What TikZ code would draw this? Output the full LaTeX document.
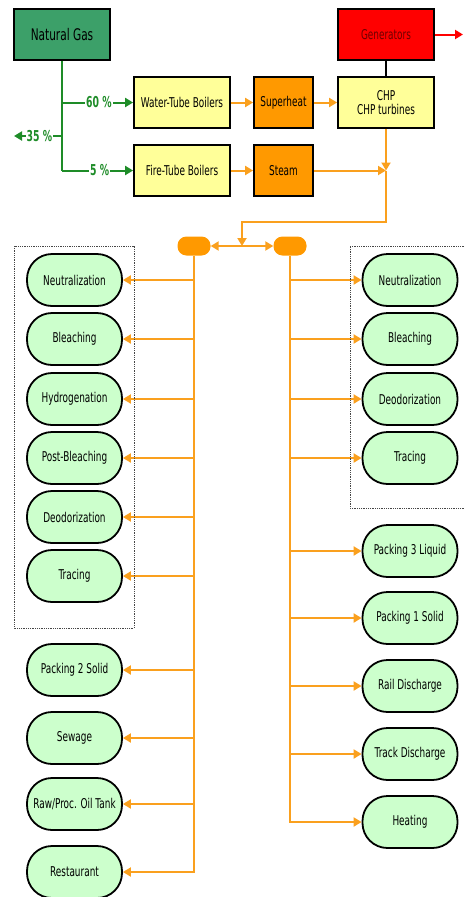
\documentclass[tikz,border=0pt]{standalone}
\usepackage{fontspec}
\setmainfont{DejaVu Sans}[FakeStretch=0.66]
\newfontfamily\pctfont{DejaVu Sans}[FakeStretch=0.62]
\usepackage{tikz}
\usetikzlibrary{arrows.meta,positioning}
\definecolor{gasgreen}{RGB}{30,140,40}
\definecolor{gasfill}{RGB}{60,160,105}
\definecolor{genred}{RGB}{255,0,0}
\definecolor{gentext}{RGB}{110,0,0}
\definecolor{paleyellow}{RGB}{255,255,153}
\definecolor{heatorange}{RGB}{255,153,0}
\definecolor{steamorange}{RGB}{250,160,30}
\definecolor{palegreen}{RGB}{204,255,204}
\definecolor{groupgrey}{RGB}{70,70,70}
\tikzset{
  base/.style={font=\fontsize{13.5}{14.5}\selectfont, align=center, inner sep=1pt, text=black},
  box/.style={base, rectangle, draw=black, line width=1.8pt, minimum height=51pt},
  boiler/.style={box, fill=paleyellow, minimum width=96pt},
  heat/.style={box, fill=heatorange, minimum width=59pt},
  proc/.style={base, rectangle, rounded corners=25pt, draw=black, line width=1.8pt, fill=palegreen, minimum width=95pt, minimum height=52pt},
  hub/.style={rectangle, rounded corners=9pt, fill=heatorange, minimum width=33pt, minimum height=19pt, inner sep=0pt},
  oline/.style={line width=2pt, draw=steamorange},
  oarr/.style={oline, -{Triangle[length=8pt,width=9pt]}},
  oarr2/.style={oline, {Triangle[length=8pt,width=9pt]}-{Triangle[length=8pt,width=9pt]}},
  gline/.style={line width=2pt, draw=gasgreen},
  garr/.style={gline, -{Triangle[length=8pt,width=9pt]}},
  rarr/.style={line width=2pt, draw=genred, -{Triangle[length=8pt,width=9pt]}},
  pct/.style={base, font=\pctfont\bfseries\fontsize{15}{16}\selectfont, text=gasgreen, fill=white, inner sep=1pt},
  grp/.style={draw=groupgrey, densely dotted, line width=0.8pt},
}
\begin{document}
\begin{tikzpicture}[x=1pt,y=-1pt]
  \useasboundingbox (0,0) rectangle (465,897);
  % supply side
  \node[box,fill=gasfill,minimum width=96pt,font=\fontsize{16}{17}\selectfont] (gas) at (62,34.5) {Natural Gas};
  \node[box,fill=genred,minimum width=96pt,text=gentext] (gen) at (386,34.5) {Generators};
  \node[boiler] (wtb) at (182,102.5) {Water-Tube Boilers};
  \node[heat]   (sup) at (283.5,102.5) {Superheat};
  \node[boiler] (chp) at (386,102.5) {CHP\\CHP turbines};
  \node[boiler] (ftb) at (182,170.5) {Fire-Tube Boilers};
  \node[heat]   (stm) at (283.5,170.5) {Steam};
  % gas split
  \coordinate (gbot) at (gas.south |- ftb);
  \coordinate (gout) at (14,136);
  \draw[gline] (gas.south) -- (gbot);
  \draw[garr] (gas.south |- wtb) -- (wtb.west) node[pct,pos=0.52] {60 \%};
  \draw[garr] (gbot) -- (ftb.west) node[pct,pos=0.53] {5 \%};
  \draw[garr] (gas.south |- gout) -- (gout) node[pct,pos=0.47] {35 \%};
  % power out
  \coordinate (pout) at (463,34.5);
  \draw[rarr] (gen) -- (pout);
  \draw[line width=1.4pt] (gen) -- (chp);
  % steam lines
  \draw[oarr] (wtb) -- (sup);
  \draw[oarr] (sup) -- (chp);
  \draw[oarr] (ftb) -- (stm);
  \coordinate (mix) at (chp.south |- stm);
  \draw[oarr] (stm) -- (mix);
  \draw[oarr] (chp) -- (mix);
  \coordinate (split) at (242,246);
  \node[hub] (hl) at (194,246) {};
  \node[hub] (hr) at (290,246) {};
  \draw[oarr2] (hl) -- (hr);
  \draw[oarr] (mix) -- ++(0,51) -| (split);
  % consumers, left
  \foreach \n/\t/\y in {l1/Neutralization/280, l2/Bleaching/339, l3/Hydrogenation/399,
      l4/Post-Bleaching/458, l5/Deodorization/517, l6/Tracing/576, l7/Packing 2 Solid/670,
      l8/Sewage/738, l9/Raw\slash Proc. Oil Tank/804, l10/Restaurant/872}
    \node[proc] (\n) at (74.5,\y) {\t};
  % consumers, right
  \foreach \n/\t/\y in {r1/Neutralization/280, r2/Bleaching/339, r3/Deodorization/399,
      r4/Tracing/458, r5/Packing 3 Liquid/551, r6/Packing 1 Solid/618,
      r7/Rail Discharge/686, r8/Track Discharge/754, r9/Heating/822}
    \node[proc] (\n) at (410,\y) {\t};
  \draw[oarr] (hl) |- (l10);
  \foreach \i in {1,...,9}{\draw[oarr] (hl |- l\i) -- (l\i);}
  \draw[oarr] (hr) |- (r9);
  \foreach \i in {1,...,8}{\draw[oarr] (hr |- r\i) -- (r\i);}
  % groups
  \draw[grp] (14,246) rectangle (134,628);
  \draw[grp] (466,246) -- (350,246) -- (350,508) -- (466,508);
\end{tikzpicture}
\end{document}
